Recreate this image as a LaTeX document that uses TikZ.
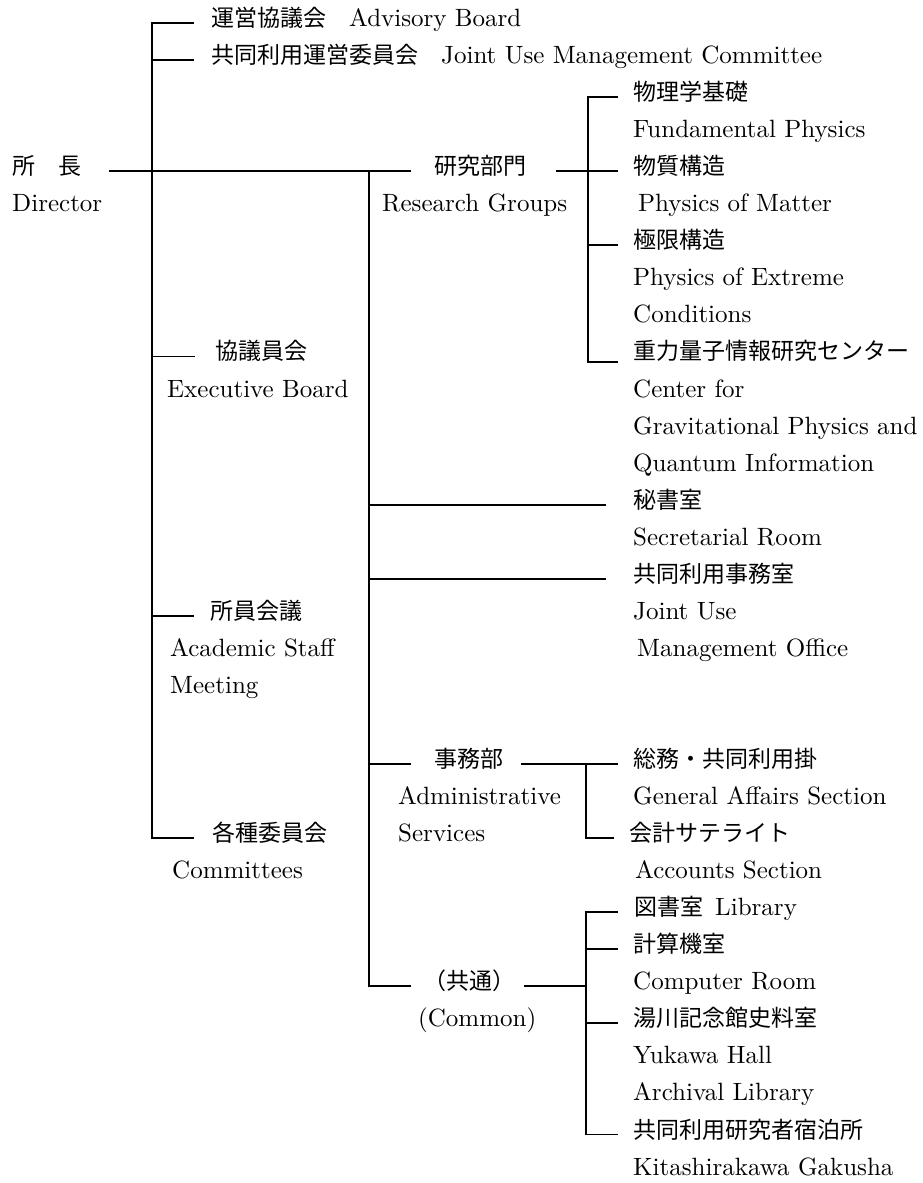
\documentclass[tikz,border=0pt]{standalone}
\usepackage{fontspec}
\setmainfont{lmroman10-regular.otf}[BoldFont=lmroman10-bold.otf,ItalicFont=lmroman10-italic.otf]
\newfontfamily\jp{Noto Sans CJK JP}[Scale=0.92]
\begin{document}
\begin{tikzpicture}[x=1pt,y=-37.05pt,
  lbl/.style={anchor=west,inner sep=0pt,text height=0.9em,text depth=0.2em,
    font=\fontsize{25}{29}\selectfont},
  ln/.style={line width=1.8pt,line cap=rect}]
\useasboundingbox[fill=white] (0,-0.6208) rectangle (923,31.309);
% ---------- labels ----------
\node[lbl] (dirj) at (12,4) {\jp 所　長};
\node[lbl] (dire) at (12,5) {Director};
\node[lbl] (adv) at (211,0) {{\jp 運営協議会　}Advisory Board};
\node[lbl] (jum) at (211,1) {{\jp 共同利用運営委員会　}Joint Use Management Committee};
\node[lbl] (exbj) at (215,9) {\jp 協議員会};
\node[lbl] (exbe) at (167,10) {Executive Board};
\node[lbl] (asmj) at (210,16) {\jp 所員会議};
\node[lbl] (asme1) at (170,17) {Academic Staff};
\node[lbl] (asme2) at (170,18) {Meeting};
\node[lbl] (comj) at (212,22) {\jp 各種委員会};
\node[lbl] (come) at (172,23) {Committees};
\node[lbl] (rgj) at (434,4) {\jp 研究部門};
\node[lbl] (rge) at (382,5) {Research Groups};
\node[lbl] (fpj) at (633,2) {\jp 物理学基礎};
\node[lbl] (fpe) at (633,3) {Fundamental Physics};
\node[lbl] (pmj) at (633,4) {\jp 物質構造};
\node[lbl] (pme) at (638,5) {Physics of Matter};
\node[lbl] (pej) at (633,6) {\jp 極限構造};
\node[lbl] (pee1) at (633,7) {Physics of Extreme};
\node[lbl] (pee2) at (633,8) {Conditions};
\node[lbl] (gqj) at (633,9) {\jp 重力量子情報研究センター};
\node[lbl] (gqe1) at (633,10) {Center for};
\node[lbl] (gqe2) at (633,11) {Gravitational Physics and};
\node[lbl] (gqe3) at (633,12) {Quantum Information};
\node[lbl] (secj) at (633,13) {\jp 秘書室};
\node[lbl] (sece) at (633,14) {Secretarial Room};
\node[lbl] (juoj) at (633,15) {\jp 共同利用事務室};
\node[lbl] (juoe1) at (633,16) {Joint Use};
\node[lbl] (juoe2) at (637,17) {Management Office};
\node[lbl] (admj) at (434,20) {\jp 事務部};
\node[lbl] (adme1) at (398,21) {Administrative};
\node[lbl] (adme2) at (398,22) {Services};
\node[lbl] (gaj) at (633,20) {\jp 総務・共同利用掛};
\node[lbl] (gae) at (633,21) {General Affairs Section};
\node[lbl] (acj) at (629,22) {\jp 会計サテライト};
\node[lbl] (ace) at (635,23) {Accounts Section};
\node[lbl] (cmj) at (423,26) {\jp （共通）};
\node[lbl] (cme) at (418,27) {(Common)};
\node[lbl] (lib) at (634,24) {{\jp 図書室}\hspace{12pt}Library};
\node[lbl] (crj) at (633,25) {\jp 計算機室};
\node[lbl] (cre) at (633,26) {Computer Room};
\node[lbl] (ykj) at (633,27) {\jp 湯川記念館史料室};
\node[lbl] (yke1) at (633,28) {Yukawa Hall};
\node[lbl] (yke2) at (633,29) {Archival Library};
\node[lbl] (ksj) at (633,30) {\jp 共同利用研究者宿泊所};
\node[lbl] (kse) at (633,31) {Kitashirakawa Gakusha};
% ---------- junctions ----------
\coordinate (t1top) at (152,0);
\coordinate (t1j1) at (152,1);
\coordinate (t1d) at (152,4);
\coordinate (t1j9) at (152,9);
\coordinate (t1j16) at (152,16);
\coordinate (t1bot) at (152,22);
\coordinate (t2top) at (369,4);
\coordinate (t2j13) at (369,13);
\coordinate (t2j15) at (369,15);
\coordinate (t2j20) at (369,20);
\coordinate (t2bot) at (369,26);
\coordinate (rtop) at (588,2);
\coordinate (rmid) at (588,4);
\coordinate (rj6) at (588,6);
\coordinate (rbot) at (588,9.15);
\coordinate (rbotE) at (617,9.15);
\coordinate (atop) at (586,20);
\coordinate (abot) at (586,22);
\coordinate (ctop) at (586,24);
\coordinate (cj25) at (586,25);
\coordinate (cmid) at (586,26);
\coordinate (cj27) at (586,27);
\coordinate (cbot) at (586,30);
% ---------- connectors ----------
% director to research groups, crossing both trunks
\draw[ln] ([xshift=28pt]dirj.east) -- (t1d) -- (t2top) -- ([xshift=-24pt]rgj.west);
% trunk 1
\draw[ln] ([xshift=-18pt]adv.west) -- (t1top) -- (t1bot) -- ([xshift=-19pt]comj.west);
\draw[ln] (t1j1) -- ([xshift=-18pt]jum.west);
\draw[ln] (t1j9) -- ([xshift=-21pt]exbj.west);
\draw[ln] (t1j16) -- ([xshift=-17pt]asmj.west);
% trunk 2
\draw[ln] (t2top) -- (t2bot) -- ([xshift=-13pt]cmj.west);
\draw[ln] (t2j13) -- ([xshift=-28pt]secj.west);
\draw[ln] (t2j15) -- ([xshift=-28pt]juoj.west);
\draw[ln] (t2j20) -- ([xshift=-24pt]admj.west);
% research groups
\draw[ln] ([xshift=30pt]rgj.east) -- (rmid) -- ([xshift=-16pt]pmj.west);
\draw[ln] ([xshift=-16pt]fpj.west) -- (rtop) -- (rbot) -- (rbotE);
\draw[ln] (rj6) -- ([xshift=-16pt]pej.west);
% administrative services
\draw[ln] ([xshift=18pt]admj.east) -- (atop) -- ([xshift=-16pt]gaj.west);
\draw[ln] (atop) -- (abot) -- ([xshift=-16pt]acj.west);
% common
\draw[ln] ([xshift=9pt]cmj.east) -- (cmid);
\draw[ln] ([xshift=-17pt]lib.west) -- (ctop) -- (cbot) -- ([xshift=-16pt]ksj.west);
\draw[ln] (cj25) -- ([xshift=-16pt]crj.west);
\draw[ln] (cj27) -- ([xshift=-16pt]ykj.west);
\end{tikzpicture}
\end{document}
